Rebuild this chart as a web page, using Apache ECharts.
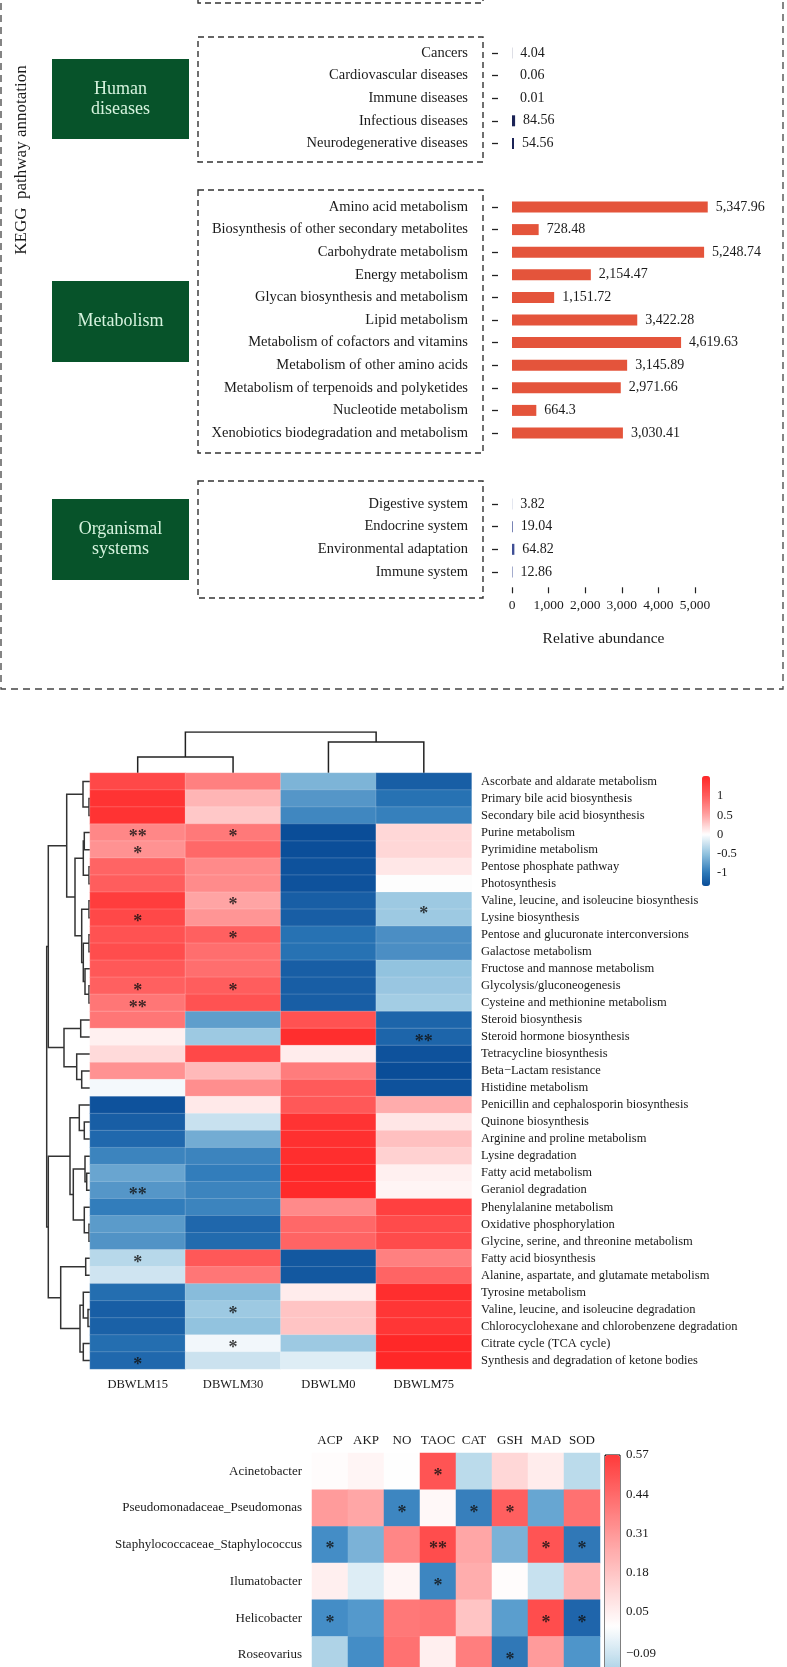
<!DOCTYPE html>
<html><head><meta charset="utf-8">
<script src="https://cdn.jsdelivr.net/npm/echarts@6/dist/echarts.min.js"></script>
<style>html,body{margin:0;padding:0;background:#fff}#c{width:787px;height:1667px}</style>
</head><body><div id="c"></div>
<script>
// ---------- Panel A: KEGG pathway annotation ----------
const humanCats = ['Cancers','Cardiovascular diseases','Immune diseases','Infectious diseases','Neurodegenerative diseases'];
const humanVals = [4.04, 0.06, 0.01, 84.56, 54.56];
const metaCats = ['Amino acid metabolism','Biosynthesis of other secondary metabolites','Carbohydrate metabolism','Energy metabolism','Glycan biosynthesis and metabolism','Lipid metabolism','Metabolism of cofactors and vitamins','Metabolism of other amino acids','Metabolism of terpenoids and polyketides','Nucleotide metabolism','Xenobiotics biodegradation and metabolism'];
const metaVals = [5347.96, 728.48, 5248.74, 2154.47, 1151.72, 3422.28, 4619.63, 3145.89, 2971.66, 664.3, 3030.41];
const orgCats = ['Digestive system','Endocrine system','Environmental adaptation','Immune system'];
const orgVals = [3.82, 19.04, 64.82, 12.86];
const abundanceTicks = [0, 1000, 2000, 3000, 4000, 5000];
const groupNames = ['Human\ndiseases', 'Metabolism', 'Organismal\nsystems'];

// ---------- Panel B: clustered heatmap ----------
const hmCols = ['DBWLM15','DBWLM30','DBWLM0','DBWLM75'];
const hmRows = ['Ascorbate and aldarate metabolism','Primary bile acid biosynthesis','Secondary bile acid biosynthesis','Purine metabolism','Pyrimidine metabolism','Pentose phosphate pathway','Photosynthesis','Valine, leucine, and isoleucine biosynthesis','Lysine biosynthesis','Pentose and glucuronate interconversions','Galactose metabolism','Fructose and mannose metabolism','Glycolysis/gluconeogenesis','Cysteine and methionine metabolism','Steroid biosynthesis','Steroid hormone biosynthesis','Tetracycline biosynthesis','Beta\u2212Lactam resistance','Histidine metabolism','Penicillin and cephalosporin biosynthesis','Quinone biosynthesis','Arginine and proline metabolism','Lysine degradation','Fatty acid metabolism','Geraniol degradation','Phenylalanine metabolism','Oxidative phosphorylation','Glycine, serine, and threonine metabolism','Fatty acid biosynthesis','Alanine, aspartate, and glutamate metabolism','Tyrosine metabolism','Valine, leucine, and isoleucine degradation','Chlorocyclohexane and chlorobenzene degradation','Citrate cycle (TCA cycle)','Synthesis and degradation of ketone bodies'];
const hmDBWLM15 = [1.2, 1.4, 1.4, 0.7, 0.62, 0.95, 1.0, 1.3, 1.2, 1.1, 1.15, 1.05, 0.98, 0.82, 0.82, 0.08, 0.2, 0.62, -0.05, -1.3, -1.2, -1.12, -0.92, -0.7, -0.8, -0.97, -0.77, -0.82, -0.33, -0.22, -1.08, -1.2, -1.18, -1.08, -1.12];
const hmDBWLM30 = [0.75, 0.4, 0.3, 0.8, 0.92, 0.68, 0.67, 0.5, 0.6, 0.98, 0.88, 0.88, 1.0, 1.1, -0.75, -0.45, 1.2, 0.38, 0.65, 0.12, -0.25, -0.65, -0.92, -0.97, -0.92, -0.92, -1.13, -1.1, 1.05, 0.82, -0.55, -0.45, -0.5, -0.06, -0.24];
const hmDBWLM0 = [-0.6, -0.8, -0.9, -1.35, -1.33, -1.3, -1.3, -1.2, -1.2, -1.05, -1.05, -1.2, -1.2, -1.2, 1.1, 1.45, 0.1, 0.78, 1.03, 1.05, 1.4, 1.42, 1.45, 1.48, 1.48, 0.68, 0.92, 0.95, -1.25, -1.25, 0.1, 0.32, 0.32, -0.45, -0.15];
const hmDBWLM75 = [-1.2, -1.05, -0.95, 0.22, 0.22, 0.13, 0.0, -0.45, -0.45, -0.85, -0.85, -0.5, -0.47, -0.42, -1.15, -1.15, -1.3, -1.35, -1.3, 0.45, 0.14, 0.34, 0.25, 0.08, 0.05, 1.27, 1.17, 1.17, 0.75, 0.95, 1.45, 1.37, 1.37, 1.5, 1.5];
// [row, column, mark]
const hmSig = [[3,0,'**'],[3,1,'*'],[4,0,'*'],[7,1,'*'],[7.5,3,'*'],[8,0,'*'],[9,1,'*'],[12,0,'*'],[12,1,'*'],[13,0,'**'],[15,3,'**'],[24,0,'**'],[28,0,'*'],[31,1,'*'],[33,1,'*'],[34,0,'*']];
// dendrogram merges [childA, childB, height]; leaves are 0..n-1, new nodes numbered after
const rowMerges = [[1,2,1],[0,35,7],[3,4,5.7],[5,6,1],[37,38,6.7],[7,8,1],[9,10,1],[12,13,1],[11,42,5],[41,43,6.7],[40,44,8.3],[39,45,15],[36,46,23.3],[14,15,9.3],[17,18,8.3],[16,49,13.3],[48,50,26],[47,51,41.7],[20,21,5.7],[19,53,10.7],[23,24,3.3],[22,55,5],[26,27,1],[25,57,5.7],[56,58,16.7],[54,59,20],[28,29,4.3],[31,32,2],[30,62,6.7],[33,34,6.7],[63,64,10],[61,65,29.3],[60,66,41.7],[52,67,43.3]];
const colMerges = [[0,1,16],[2,3,31],[4,5,41]];
const hmScaleTicks = [1, 0.5, 0, -0.5, -1];

// ---------- Panel C: correlation heatmap ----------
const corCols = ['ACP','AKP','NO','TAOC','CAT','GSH','MAD','SOD'];
const corRows = ['Acinetobacter','Pseudomonadaceae_Pseudomonas','Staphylococcaceae_Staphylococcus','Ilumatobacter','Helicobacter','Roseovarius'];
const corAcinetobacter = [0.01, 0.03, 0.0, 0.5, -0.12, 0.12, 0.06, -0.12];
const corPseudomonas = [0.3, 0.27, -0.33, 0.02, -0.35, 0.47, -0.25, 0.42];
const corStaphylococcus = [-0.31, -0.22, 0.36, 0.52, 0.27, -0.22, 0.5, -0.37];
const corIlumatobacter = [0.05, -0.06, 0.03, -0.33, 0.25, 0.01, -0.1, 0.22];
const corHelicobacter = [-0.31, -0.28, 0.4, 0.41, 0.18, -0.27, 0.52, -0.42];
const corRoseovarius = [-0.14, -0.31, 0.42, 0.05, 0.38, -0.37, 0.3, -0.29];
const corSig = [[0,3,'*'],[1,2,'*'],[1,4,'*'],[1,5,'*'],[2,0,'*'],[2,3,'**'],[2,6,'*'],[2,7,'*'],[3,3,'*'],[4,0,'*'],[4,6,'*'],[4,7,'*'],[5,5,'*']];
const corTicks = [0.57, 0.44, 0.31, 0.18, 0.05, -0.09];
const corMin = -0.482, corMax = 0.57;

// ---------- helpers ----------
const FONT = "'Liberation Serif','Times New Roman',serif";
const nf = new Intl.NumberFormat('en-US', {maximumFractionDigits: 2});
function hexToRgb(h){h=h.replace('#','');return [0,2,4].map(i=>parseInt(h.slice(i,i+2),16));}
function ramp(stops, n){
  const min=stops[0][0], max=stops[stops.length-1][0], out=[];
  for(let i=0;i<n;i++){
    const v=min+(max-min)*i/(n-1); let k=0;
    while(k<stops.length-2 && v>stops[k+1][0]) k++;
    const t=Math.max(0,Math.min(1,(v-stops[k][0])/(stops[k+1][0]-stops[k][0])));
    const a=hexToRgb(stops[k][1]), b=hexToRgb(stops[k+1][1]);
    out.push('rgb('+a.map((x,j)=>Math.round(x+(b[j]-x)*t)).join(',')+')');
  }
  return out;
}
function dendro(merges, nLeaves, orient){
  const pos=[], ht=[];
  for(let i=0;i<nLeaves;i++){pos.push(i);ht.push(0);}
  const lines=[];
  merges.forEach(([a,b,h])=>{
    const pts=[[pos[a],ht[a]],[pos[a],h],[pos[b],h],[pos[b],ht[b]]];
    lines.push({coords: pts.map(p=>orient==='left'?[p[1],p[0]]:[p[0],p[1]])});
    pos.push((pos[a]+pos[b])/2); ht.push(h);
  });
  return lines;
}
const hmStops = [[-1.34,'#0a4d98'],[-1.0,'#2c78b8'],[-0.5,'#92c3df'],[0,'#ffffff'],[0.5,'#ffa3a3'],[1.0,'#ff5d5d'],[1.52,'#ff2626']];
const corStops = [[corMin,'#0b4f9c'],[-0.3,'#4791c8'],[-0.12,'#bcdbeb'],[0,'#ffffff'],[0.25,'#ffadad'],[corMax,'#ff3b3b']];

const hmCols4 = [hmDBWLM15, hmDBWLM30, hmDBWLM0, hmDBWLM75];
const hmData = [];
hmRows.forEach((r,ri)=>hmCols4.forEach((col,ci)=>hmData.push([ci,ri,col[ri]])));
const corAll = [corAcinetobacter, corPseudomonas, corStaphylococcus, corIlumatobacter, corHelicobacter, corRoseovarius];
const corData = [];
corAll.forEach((row,ri)=>row.forEach((v,ci)=>corData.push([ci,ri,v])));

// ---------- layout ----------
const barLeft = 512, barWidth = 183, labLeft = 498;
const barBands = [[41.7,113],[195.7,248.6],[492.7,90.6]];
const grids = [
  {left:barLeft, top:barBands[0][0], width:barWidth, height:barBands[0][1]},   //0 human
  {left:barLeft, top:barBands[1][0], width:barWidth, height:barBands[1][1]},   //1 metabolism
  {left:barLeft, top:barBands[2][0], width:barWidth, height:barBands[2][1]},   //2 organismal
  {left:90, top:732, width:381.5, height:41},                //3 top dendro
  {left:40, top:773, width:50, height:596},                  //4 left dendro
  {left:90, top:773, width:381.5, height:596},               //5 heatmap
  {left:702, top:776, width:8, height:110},                  //6 colorbar B axis
  {left:312, top:1453, width:288, height:220.2},             //7 corr heatmap
  {left:605, top:1455, width:15, height:317, show:true, borderColor:'#000', borderWidth:1, backgroundColor:'transparent'}, //8 colorbar C
  {left:90, top:773, width:381.5, height:596},               //9 heatmap star overlay
  {left:labLeft, top:barBands[0][0], width:197, height:barBands[0][1]},  //10 labels human
  {left:labLeft, top:barBands[1][0], width:197, height:barBands[1][1]},  //11 labels metabolism
  {left:labLeft, top:barBands[2][0], width:197, height:barBands[2][1]}   //12 labels organismal
].map(g=>Object.assign({outerBoundsMode:'none', containLabel:false}, g));

const txt = {fontFamily:FONT, color:'#1a1a1a'};
function catLabelY(grid, data){
  return {gridIndex:grid, type:'category', data, inverse:true,
    axisLine:{show:false}, splitLine:{show:false},
    axisTick:{show:true, alignWithLabel:true, length:6, lineStyle:{color:'#222', width:1.3}},
    axisLabel:Object.assign({margin:30, fontSize:14.5, interval:0}, txt)};
}
function catHiddenY(grid, data){
  return {gridIndex:grid, type:'category', data, inverse:true, show:false};
}
const xAxis = [
  {gridIndex:0, type:'value', min:0, max:5000, show:false},
  {gridIndex:1, type:'value', min:0, max:5000, show:false},
  {gridIndex:2, type:'value', min:0, max:5000, interval:1000, offset:4,
    axisLine:{show:false}, splitLine:{show:false},
    axisTick:{show:true, length:6, customValues:abundanceTicks, lineStyle:{color:'#222', width:1.2}},
    axisLabel:Object.assign({margin:11, fontSize:13.5, customValues:abundanceTicks, formatter:v=>nf.format(v)}, txt),
    name:'Relative abundance', nameLocation:'middle', nameGap:44, nameTextStyle:Object.assign({fontSize:15.5}, txt)},
  {gridIndex:3, type:'value', min:-0.5, max:3.5, show:false},
  {gridIndex:4, type:'value', min:0, max:50, inverse:true, show:false},
  {gridIndex:5, type:'category', data:hmCols, position:'bottom', axisLine:{show:false}, axisTick:{show:false},
    axisLabel:Object.assign({margin:9, fontSize:12.5, interval:0}, txt)},
  {gridIndex:6, type:'value', show:false},
  {gridIndex:7, type:'category', data:corCols, position:'top', axisLine:{show:false}, axisTick:{show:false},
    axisLabel:Object.assign({margin:6, fontSize:13, interval:0}, txt)},
  {gridIndex:8, type:'value', show:false},
  {gridIndex:9, type:'value', min:-0.5, max:3.5, show:false},
  {gridIndex:10, type:'value', min:0, max:1, show:false},
  {gridIndex:11, type:'value', min:0, max:1, show:false},
  {gridIndex:12, type:'value', min:0, max:1, show:false}
];
const yAxis = [
  catHiddenY(0, humanCats), catHiddenY(1, metaCats), catHiddenY(2, orgCats),
  {gridIndex:3, type:'value', min:0, max:41, show:false},
  {gridIndex:4, type:'value', min:-0.5, max:34.5, inverse:true, show:false},
  {gridIndex:5, type:'category', data:hmRows, inverse:true, position:'right', axisLine:{show:false}, axisTick:{show:false},
    axisLabel:Object.assign({margin:9.5, fontSize:12.5, interval:0}, txt)},
  {gridIndex:6, type:'value', min:-1.34, max:1.52, position:'right', axisLine:{show:false}, axisTick:{show:false}, splitLine:{show:false},
    axisLabel:Object.assign({margin:7, fontSize:12.5, customValues:hmScaleTicks, formatter:v=>String(v)}, txt)},
  {gridIndex:7, type:'category', data:corRows, inverse:true, axisLine:{show:false}, axisTick:{show:false},
    axisLabel:Object.assign({margin:10, fontSize:13, interval:0}, txt)},
  {gridIndex:8, type:'value', min:corMin, max:corMax, position:'right', axisLine:{show:false}, splitLine:{show:false},
    axisTick:{show:true, length:4, customValues:corTicks, lineStyle:{color:'#000', width:1}},
    axisLabel:Object.assign({margin:6, fontSize:13, customValues:corTicks, formatter:v=>(v<0?'\u2212':'')+Math.abs(v).toFixed(2)}, txt)},
  {gridIndex:9, type:'value', min:-0.5, max:34.5, inverse:true, show:false},
  catLabelY(10, humanCats), catLabelY(11, metaCats), catLabelY(12, orgCats)
];

function barSeries(idx, vals, color){
  return {type:'bar', xAxisIndex:idx, yAxisIndex:idx, data:vals, barWidth:11, clip:false,
    itemStyle:{color}, silent:true,
    label:Object.assign({show:true, position:'right', distance:8, fontSize:14, formatter:p=>nf.format(p.value)}, txt)};
}
const starLabel = {show:true, position:'inside', offset:[0,5], fontSize:18, fontWeight:'bold', color:'#111', fontFamily:FONT, formatter:p=>p.value[2]};

const series = [
  barSeries(0, humanVals, '#1b2356'),
  barSeries(1, metaVals, '#e4543b'),
  barSeries(2, orgVals, '#3f4f95'),
  {type:'lines', coordinateSystem:'cartesian2d', xAxisIndex:3, yAxisIndex:3, polyline:true, silent:true,
    lineStyle:{color:'#222', width:1.5, opacity:1}, data:dendro(colMerges, 4, 'top')},
  {type:'lines', coordinateSystem:'cartesian2d', xAxisIndex:4, yAxisIndex:4, polyline:true, silent:true,
    lineStyle:{color:'#333', width:1.5, opacity:1}, data:dendro(rowMerges, 35, 'left')},
  {type:'heatmap', xAxisIndex:5, yAxisIndex:5, data:hmData, silent:true,
    itemStyle:{borderColor:'rgba(255,255,255,0.3)', borderWidth:0.6}},
  {type:'scatter', xAxisIndex:9, yAxisIndex:9, symbol:'circle', symbolSize:0, silent:true,
    data:hmSig.map(s=>[s[1], s[0], s[2]]), label:starLabel},
  {type:'heatmap', xAxisIndex:7, yAxisIndex:7, data:corData, silent:true},
  {type:'scatter', xAxisIndex:7, yAxisIndex:7, symbol:'circle', symbolSize:0, silent:true,
    data:corSig.map(s=>[s[1], s[0], s[2]]), label:starLabel}
];

const dash = {fill:'none', stroke:'#333', lineWidth:1.4, lineDash:[6,4]};
const greenBoxes = [[59,80],[281,81],[499,81]];
const graphic = [
  {type:'rect', shape:{x:1, y:-20, width:782, height:709}, style:{fill:'none', stroke:'#444', lineWidth:1.3, lineDash:[7,5]}},
  {type:'rect', shape:{x:198, y:-20, width:285, height:23}, style:dash},
  {type:'rect', shape:{x:198, y:37, width:285, height:125}, style:dash},
  {type:'rect', shape:{x:198, y:190, width:285, height:263}, style:dash},
  {type:'rect', shape:{x:198, y:481, width:285, height:117}, style:dash},
  {type:'text', x:22, y:160, rotation:Math.PI/2,
    style:{text:'KEGG  pathway annotation', fill:'#1a1a1a', font:'17px '+FONT, align:'center', verticalAlign:'middle', textAlign:'center', textVerticalAlign:'middle'}}
];
greenBoxes.forEach(([y,h],i)=>{
  graphic.push({type:'rect', shape:{x:52, y, width:137, height:h}, style:{fill:'#07532a'}});
  graphic.push({type:'text', x:120.5, y:y+h/2,
    style:{text:groupNames[i], fill:'#d6f3de', font:'18px '+FONT, lineHeight:20, align:'center', verticalAlign:'middle', textAlign:'center', textVerticalAlign:'middle'}});
});

const chart = echarts.init(document.getElementById('c'), null, {renderer:'canvas'});
chart.setOption({
  backgroundColor:'#fff', animation:false,
  grid:grids, xAxis, yAxis, series, graphic,
  visualMap:[
    {type:'continuous', seriesIndex:5, min:-1.34, max:1.52, inRange:{color:ramp(hmStops,90)},
      left:702, top:776, itemWidth:8, itemHeight:110, calculable:false, padding:0, hoverLink:false, textStyle:{color:'transparent'}},
    {type:'continuous', seriesIndex:7, min:corMin, max:corMax, inRange:{color:ramp(corStops,90)},
      left:605, top:1455, itemWidth:15, itemHeight:317, calculable:false, padding:0, hoverLink:false, textStyle:{color:'transparent'}}
  ]
});
</script></body></html>
